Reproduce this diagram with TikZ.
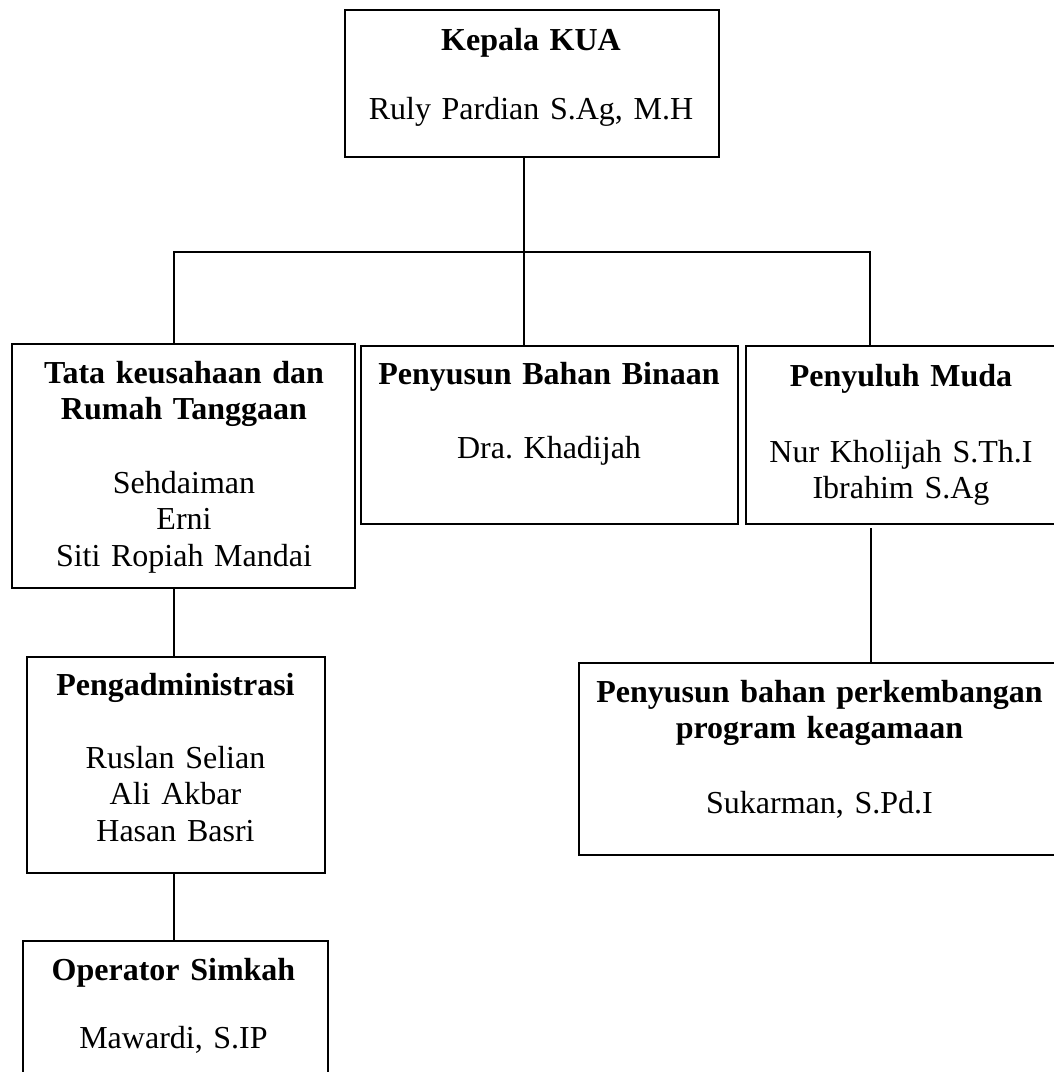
\documentclass[tikz,border=0pt]{standalone}
\usepackage{fontspec}
\setmainfont{Liberation Serif}
\usetikzlibrary{calc}
\frenchspacing
\newcommand\fsz{\fontsize{32}{36.5}\selectfont\frenchspacing}
\tikzset{
  box/.style={draw, line width=1.6pt, rectangle, inner sep=0pt, anchor=north west},
  ttl/.style={font=\fsz\bfseries, text width=470pt, align=center, anchor=base, inner sep=0pt},
  nm/.style={font=\fsz, text width=470pt, align=center, anchor=base, inner sep=0pt},
  link/.style={line width=1.6pt}
}
\begin{document}
\begin{tikzpicture}[x=1pt,y=-1pt]
\useasboundingbox (0,0) rectangle (1054,1072);
% boxes
\node[box, minimum width=374pt, minimum height=147pt] (top) at (344,9) {};
\node[box, minimum width=343pt, minimum height=244pt] (tata) at (11,343) {};
\node[box, minimum width=377pt, minimum height=178pt] (mid) at (360,345) {};
\node[box, minimum width=312pt, minimum height=178pt] (pm) at (745,345) {};
\node[box, minimum width=483pt, minimum height=192pt] (pb) at (578,662) {};
\node[box, minimum width=298pt, minimum height=216pt] (adm) at (26,656) {};
\node[box, minimum width=305pt, minimum height=150pt] (op) at (22,940) {};
% texts
\node[ttl] (topT) at (531,50) {Kepala KUA};
\node[nm] (topN) at (531,119) {Ruly Pardian S.Ag, M.H};
\node[ttl] (tataT) at (184,383) {Tata keusahaan dan\\Rumah Tanggaan};
\node[nm] (tataN) at (184,493) {Sehdaiman\\Erni\\Siti Ropiah Mandai};
\node[ttl] (midT) at (549,384) {Penyusun Bahan Binaan};
\node[nm] (midN) at (549,458) {Dra. Khadijah};
\node[ttl] (pmT) at (901,386) {Penyuluh Muda};
\node[nm] (pmN) at (901,462) {Nur Kholijah S.Th.I\\Ibrahim S.Ag};
\node[ttl] (pbT) at (819.5,702) {Penyusun bahan perkembangan\\program keagamaan};
\node[nm] (pbN) at (819.5,813) {Sukarman, S.Pd.I};
\node[ttl] (admT) at (175.5,695) {Pengadministrasi};
\node[nm] (admN) at (175.5,768) {Ruslan Selian\\Ali Akbar\\Hasan Basri};
\node[ttl] (opT) at (173.5,980) {Operator Simkah};
\node[nm] (opN) at (173.5,1048) {Mawardi, S.IP};
% connectors
\coordinate (j) at (524,252);
\coordinate (jl) at (174,252);
\coordinate (jr) at (870,252);
\coordinate (kr) at (871,528);
\draw[link] (top.south -| j) -- (mid.north -| j);
\draw[link] (tata.north -| jl) -- (jl) -- (jr) -- (pm.north -| jr);
\draw[link] (tata.south -| jl) -- (adm.north -| jl);
\draw[link] (adm.south -| jl) -- (op.north -| jl);
\draw[link] (kr) -- (pb.north -| kr);
\end{tikzpicture}
\end{document}
